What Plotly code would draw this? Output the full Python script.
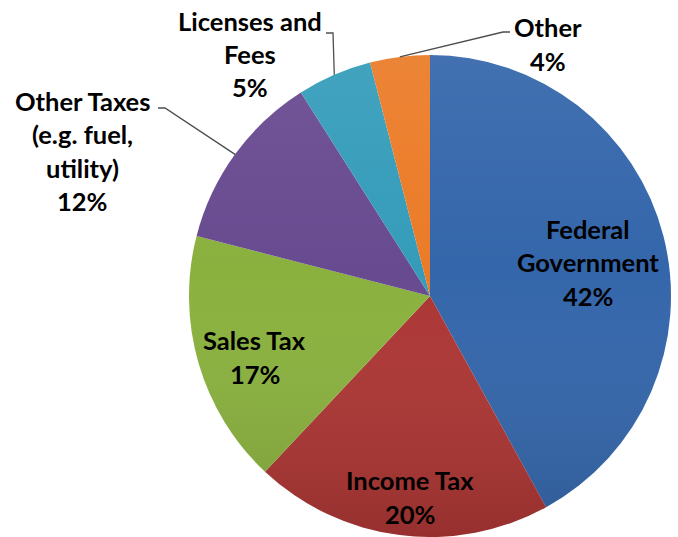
import base64
import math
import plotly.graph_objects as go

# Revenue sources, clockwise from 12 o'clock
categories = ["Federal<br>Government", "Income Tax", "Sales Tax",
              "Other Taxes<br>(e.g. fuel,<br>utility)", "Licenses and<br>Fees", "Other"]
shares = [42, 20, 17, 12, 5, 4]
colors = ["#3466ab", "#ac3634", "#8ab13e", "#684a90", "#349cba", "#eb7b27"]

W, H = 678, 537
CX, CY, R = 430, 296, 241          # pie centre and radius in pixels
LINE_STEP = 33.5                   # spacing between label lines in pixels

# label centres (pixels) and elbows of the leader lines for outside labels
label_pos = [(588, 262), (410, 497), (255, 357), (82, 151), (250, 54), (548, 44)]
leader_elbow = {3: [(158, 108), (165, 108)],
                4: [(326, 33), (333, 33)],
                5: [(510, 32), (503, 32)]}


def px(x):
    return x / W


def py(y):
    return 1 - y / H


fig = go.Figure(go.Pie(
    labels=categories,
    values=shares,
    sort=False,
    direction="clockwise",
    rotation=0,
    textinfo="none",
    hoverinfo="label+percent",
    marker=dict(colors=colors, line=dict(width=0)),
    domain=dict(x=[px(CX - R), px(CX + R)], y=[py(CY + R), py(CY - R)]),
    showlegend=False,
))

total = sum(shares)
annotations = []
shapes = []
cum = 0
for i, (lab, v) in enumerate(zip(categories, shares)):
    mid = (cum + v / 2) / total * 2 * math.pi
    cum += v
    lx, ly = label_pos[i]
    lines = lab.split("<br>") + [f"{round(v / total * 100)}%"]
    top = ly - LINE_STEP * (len(lines) - 1) / 2
    for k, line in enumerate(lines):
        annotations.append(dict(
            x=px(lx), y=py(top + k * LINE_STEP), xref="paper", yref="paper",
            text=line, showarrow=False, align="center",
            font=dict(family="Lato", size=25.5, color="#000000", weight="bold"),
            xanchor="center", yanchor="middle",
        ))
    if i in leader_elbow:
        ex = CX + R * math.sin(mid)
        ey = CY - R * math.cos(mid)
        pts = leader_elbow[i] + [(ex, ey)]
        path = "M " + " L ".join(f"{px(a)},{py(b)}" for a, b in pts)
        shapes.append(dict(type="path", path=path, xref="paper", yref="paper",
                           line=dict(color="#4d4d4d", width=1.3)))

# soft top-to-bottom shading over the disc
shade_svg = (
    '<svg xmlns="http://www.w3.org/2000/svg" width="200" height="200" viewBox="0 0 200 200">'
    '<defs><linearGradient id="g" x1="0" y1="0" x2="0" y2="1">'
    '<stop offset="0" stop-color="#ffffff" stop-opacity="0.07"/>'
    '<stop offset="0.45" stop-color="#ffffff" stop-opacity="0"/>'
    '<stop offset="1" stop-color="#000000" stop-opacity="0.13"/>'
    '</linearGradient></defs>'
    '<circle cx="100" cy="100" r="100" fill="url(#g)"/></svg>'
)
shade_src = "data:image/svg+xml;base64," + base64.b64encode(shade_svg.encode()).decode()

fig.update_layout(
    width=W, height=H,
    margin=dict(l=0, r=0, t=0, b=0),
    paper_bgcolor="white",
    plot_bgcolor="white",
    annotations=annotations,
    shapes=shapes,
    images=[dict(source=shade_src, xref="paper", yref="paper",
                 x=px(CX - R), y=py(CY - R), sizex=2 * R / W, sizey=2 * R / H,
                 xanchor="left", yanchor="top", sizing="stretch", layer="above")],
)

fig.write_html("out.html")
